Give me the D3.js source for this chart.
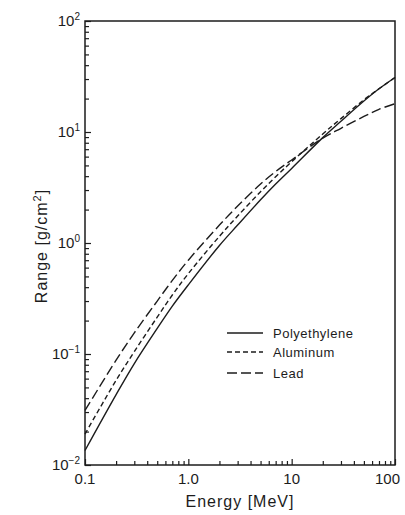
<!DOCTYPE html>
<html>
<head>
<meta charset="utf-8">
<script src="https://cdn.jsdelivr.net/npm/d3@7"></script>
<style>
  body { margin: 0; background: #fff; }
  svg { display: block; font-family: "Liberation Sans", Arial, sans-serif; }
</style>
</head>
<body>
<svg id="chart" width="405" height="515"></svg>
<script>
// electron range vs energy
const energies = [0.1, 0.2, 0.3, 0.5, 0.7, 1, 2, 3, 5, 7, 10, 20, 30, 50, 70, 100];
const polyethylene = [0.0135, 0.043, 0.082, 0.17, 0.27, 0.42, 0.95, 1.45, 2.45, 3.4, 4.7, 8.9, 12.5, 19, 24.5, 31];
const aluminum = [0.019, 0.058, 0.105, 0.215, 0.34, 0.53, 1.15, 1.75, 2.9, 3.95, 5.4, 9.6, 13.2, 19.5, 24.5, 31];
const lead = [0.031, 0.088, 0.155, 0.3, 0.46, 0.7, 1.45, 2.15, 3.4, 4.4, 5.6, 8.8, 10.8, 13.8, 16, 18];

const xTickLabels = ['0.1', '1.0', '10', '100'];
const yDecades = [-2, -1, 0, 1, 2];

const series = [
  { name: 'Polyethylene', values: polyethylene, dash: null },
  { name: 'Aluminum', values: aluminum, dash: '5,3' },
  { name: 'Lead', values: lead, dash: '10,4' }
];

const ink = '#1c1c1c';
const mLeft = 85, mRight = 395, mTop = 21, mBottom = 465;

const svg = d3.select('#chart');

const x = d3.scaleLog().domain([0.1, 100]).range([mLeft, mRight]);
const y = d3.scaleLog().domain([0.01, 100]).range([mBottom, mTop]);

// minor/major ticks
const xMinor = [];
const yMinor = [];
for (let d = -1; d < 2; d++) for (let k = 2; k <= 9; k++) xMinor.push(k * Math.pow(10, d));
for (let d = -2; d < 2; d++) for (let k = 2; k <= 9; k++) yMinor.push(k * Math.pow(10, d));

const xAxis = d3.axisBottom(x).tickValues([0.1, 1, 10, 100]).tickSize(-6).tickFormat('');
const xAxisMinor = d3.axisBottom(x).tickValues(xMinor).tickSize(-4).tickFormat('');
const yAxis = d3.axisLeft(y).tickValues(yDecades.map(d => Math.pow(10, d))).tickSize(-6).tickFormat('');
const yAxisMinor = d3.axisLeft(y).tickValues(yMinor).tickSize(-4).tickFormat('');

function styleAxis(g) {
  g.select('.domain').remove();
  g.selectAll('line').attr('stroke', ink).attr('stroke-width', 1.2);
}

svg.append('g').attr('transform', `translate(0,${mBottom})`).call(xAxis).call(styleAxis);
svg.append('g').attr('transform', `translate(0,${mBottom})`).call(xAxisMinor).call(styleAxis);
svg.append('g').attr('transform', `translate(${mLeft},0)`).call(yAxis).call(styleAxis);
svg.append('g').attr('transform', `translate(${mLeft},0)`).call(yAxisMinor).call(styleAxis);

// frame
svg.append('rect')
  .attr('x', mLeft).attr('y', mTop)
  .attr('width', mRight - mLeft).attr('height', mBottom - mTop)
  .attr('fill', 'none').attr('stroke', ink).attr('stroke-width', 1.5);

// tick labels (last one kept inside the page)
svg.append('g').selectAll('text').data(xTickLabels).join('text')
  .attr('x', (d, i) => i === xTickLabels.length - 1 ? 400 : x(+d))
  .attr('y', mBottom + 19)
  .attr('text-anchor', (d, i) => i === xTickLabels.length - 1 ? 'end' : 'middle')
  .attr('font-size', 15)
  .attr('fill', ink)
  .text(d => d);

const yLab = svg.append('g').selectAll('text').data(yDecades).join('text')
  .attr('x', mLeft - 5)
  .attr('y', d => y(Math.pow(10, d)) + 5)
  .attr('text-anchor', 'end')
  .attr('font-size', 15)
  .attr('fill', ink);
yLab.append('tspan').text('10');
yLab.append('tspan').attr('dy', -6).attr('font-size', 10)
  .text(d => d < 0 ? '\u2212' + Math.abs(d) : d);

// axis titles
svg.append('text')
  .attr('x', 240).attr('y', 507)
  .attr('text-anchor', 'middle')
  .attr('font-size', 16)
  .attr('letter-spacing', 1)
  .attr('fill', ink)
  .text('Energy [MeV]');

const yTitle = svg.append('text')
  .attr('transform', 'translate(47,246) rotate(-90)')
  .attr('text-anchor', 'middle')
  .attr('font-size', 16)
  .attr('letter-spacing', 1)
  .attr('fill', ink);
yTitle.append('tspan').text('Range [g/cm');
yTitle.append('tspan').attr('dy', -6).attr('font-size', 11).text('2');
yTitle.append('tspan').attr('dy', 6).text(']');

// curves
const line = d3.line()
  .x(d => x(d[0]))
  .y(d => y(d[1]))
  .curve(d3.curveCatmullRom.alpha(0.5));

svg.append('g').selectAll('path').data(series).join('path')
  .attr('d', s => line(energies.map((e, i) => [e, s.values[i]])))
  .attr('fill', 'none')
  .attr('stroke', ink)
  .attr('stroke-width', 1.4)
  .attr('stroke-dasharray', s => s.dash);

// legend
const legend = svg.append('g').selectAll('g').data(series).join('g')
  .attr('transform', (s, i) => `translate(227,${[333, 352, 373][i]})`);
legend.append('line')
  .attr('x1', 0).attr('x2', 36)
  .attr('stroke', ink).attr('stroke-width', 1.4)
  .attr('stroke-dasharray', s => s.dash);
legend.append('text')
  .attr('x', 46).attr('y', 5)
  .attr('font-size', 13)
  .attr('letter-spacing', 0.5)
  .attr('fill', ink)
  .text(s => s.name);
</script>
</body>
</html>
